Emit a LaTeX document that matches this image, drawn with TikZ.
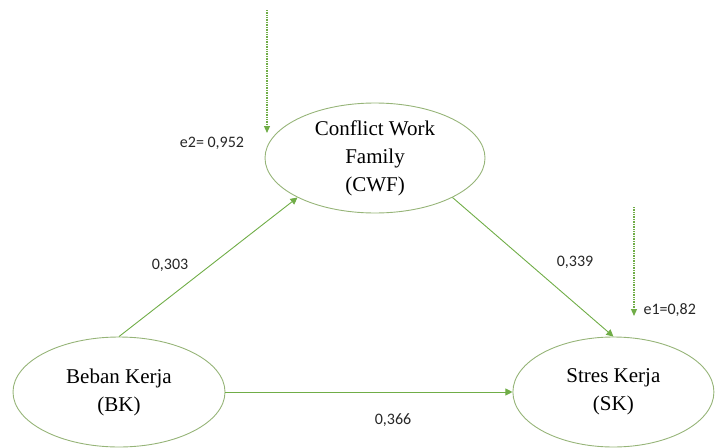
\documentclass[tikz,border=0pt]{standalone}
\usepackage{fontspec}
\setmainfont{Liberation Serif}
\newfontfamily\labelfont{Carlito}
\usepackage{tikz}
\usetikzlibrary{positioning}
\usetikzlibrary{arrows.meta,shapes.geometric}
\definecolor{pathgreen}{RGB}{112,173,71}
\definecolor{rimgreen}{RGB}{150,180,120}
\tikzset{line/.style={draw, pathgreen, line width=0.9pt, -{Triangle[length=7pt,width=7pt]}}}

\begin{document}
\begin{tikzpicture}[x=1pt,y=-1pt]
\tikzstyle{latent} = [ellipse, draw=rimgreen, line width=0.9pt, minimum width=212pt, minimum height=110pt, inner sep=0pt, align=center, font=\fontsize{21}{28}\selectfont]
\tikzstyle{coef} = [text=black!85, font=\labelfont\fontsize{16}{19}\selectfont]
\tikzstyle{error} = [draw, pathgreen, dash pattern=on 1pt off 0.7pt, line width=1.2pt, -{Triangle[length=7pt,width=6pt]}]
\useasboundingbox (0,0) rectangle (717,447);

% blocks
    \node [latent] (bk) at (119,392) {Beban Kerja\\(BK)};
    \node [latent, right=287pt of bk, minimum width=201pt] (sk) {Stres Kerja\\(SK)};
    \node [latent, minimum width=220pt] (cwf) at (375,158) {Conflict Work\\Family\\(CWF)};
% errors
    \coordinate (e2top) at (267,10);
    \coordinate (e2end) at (267,133);
    \node [coef] (e2) at (212,143) {e2= 0,952};
    \coordinate (e1top) at (634,207);
    \coordinate (e1end) at (634,316);
    \node [coef, anchor=west] (e1) at (640,310) {e1=0,82};
% coefficients
    \node [coef] (bkcwf) at (170,265) {0,303};
    \node [coef] (cwfsk) at (575,262) {0,339};
    \node [coef] (bksk) at (393,420) {0,366};
% arrows
    \path [line] (bk.north) -- (cwf.207);
    \path [line] (cwf.333) -- (sk.north);
    \path [line] (bk.east) -- (sk.west);
    \path [error] (e2top) -- (e2end);
    \path [error] (e1top) -- (e1end);

\end{tikzpicture}
\end{document}
